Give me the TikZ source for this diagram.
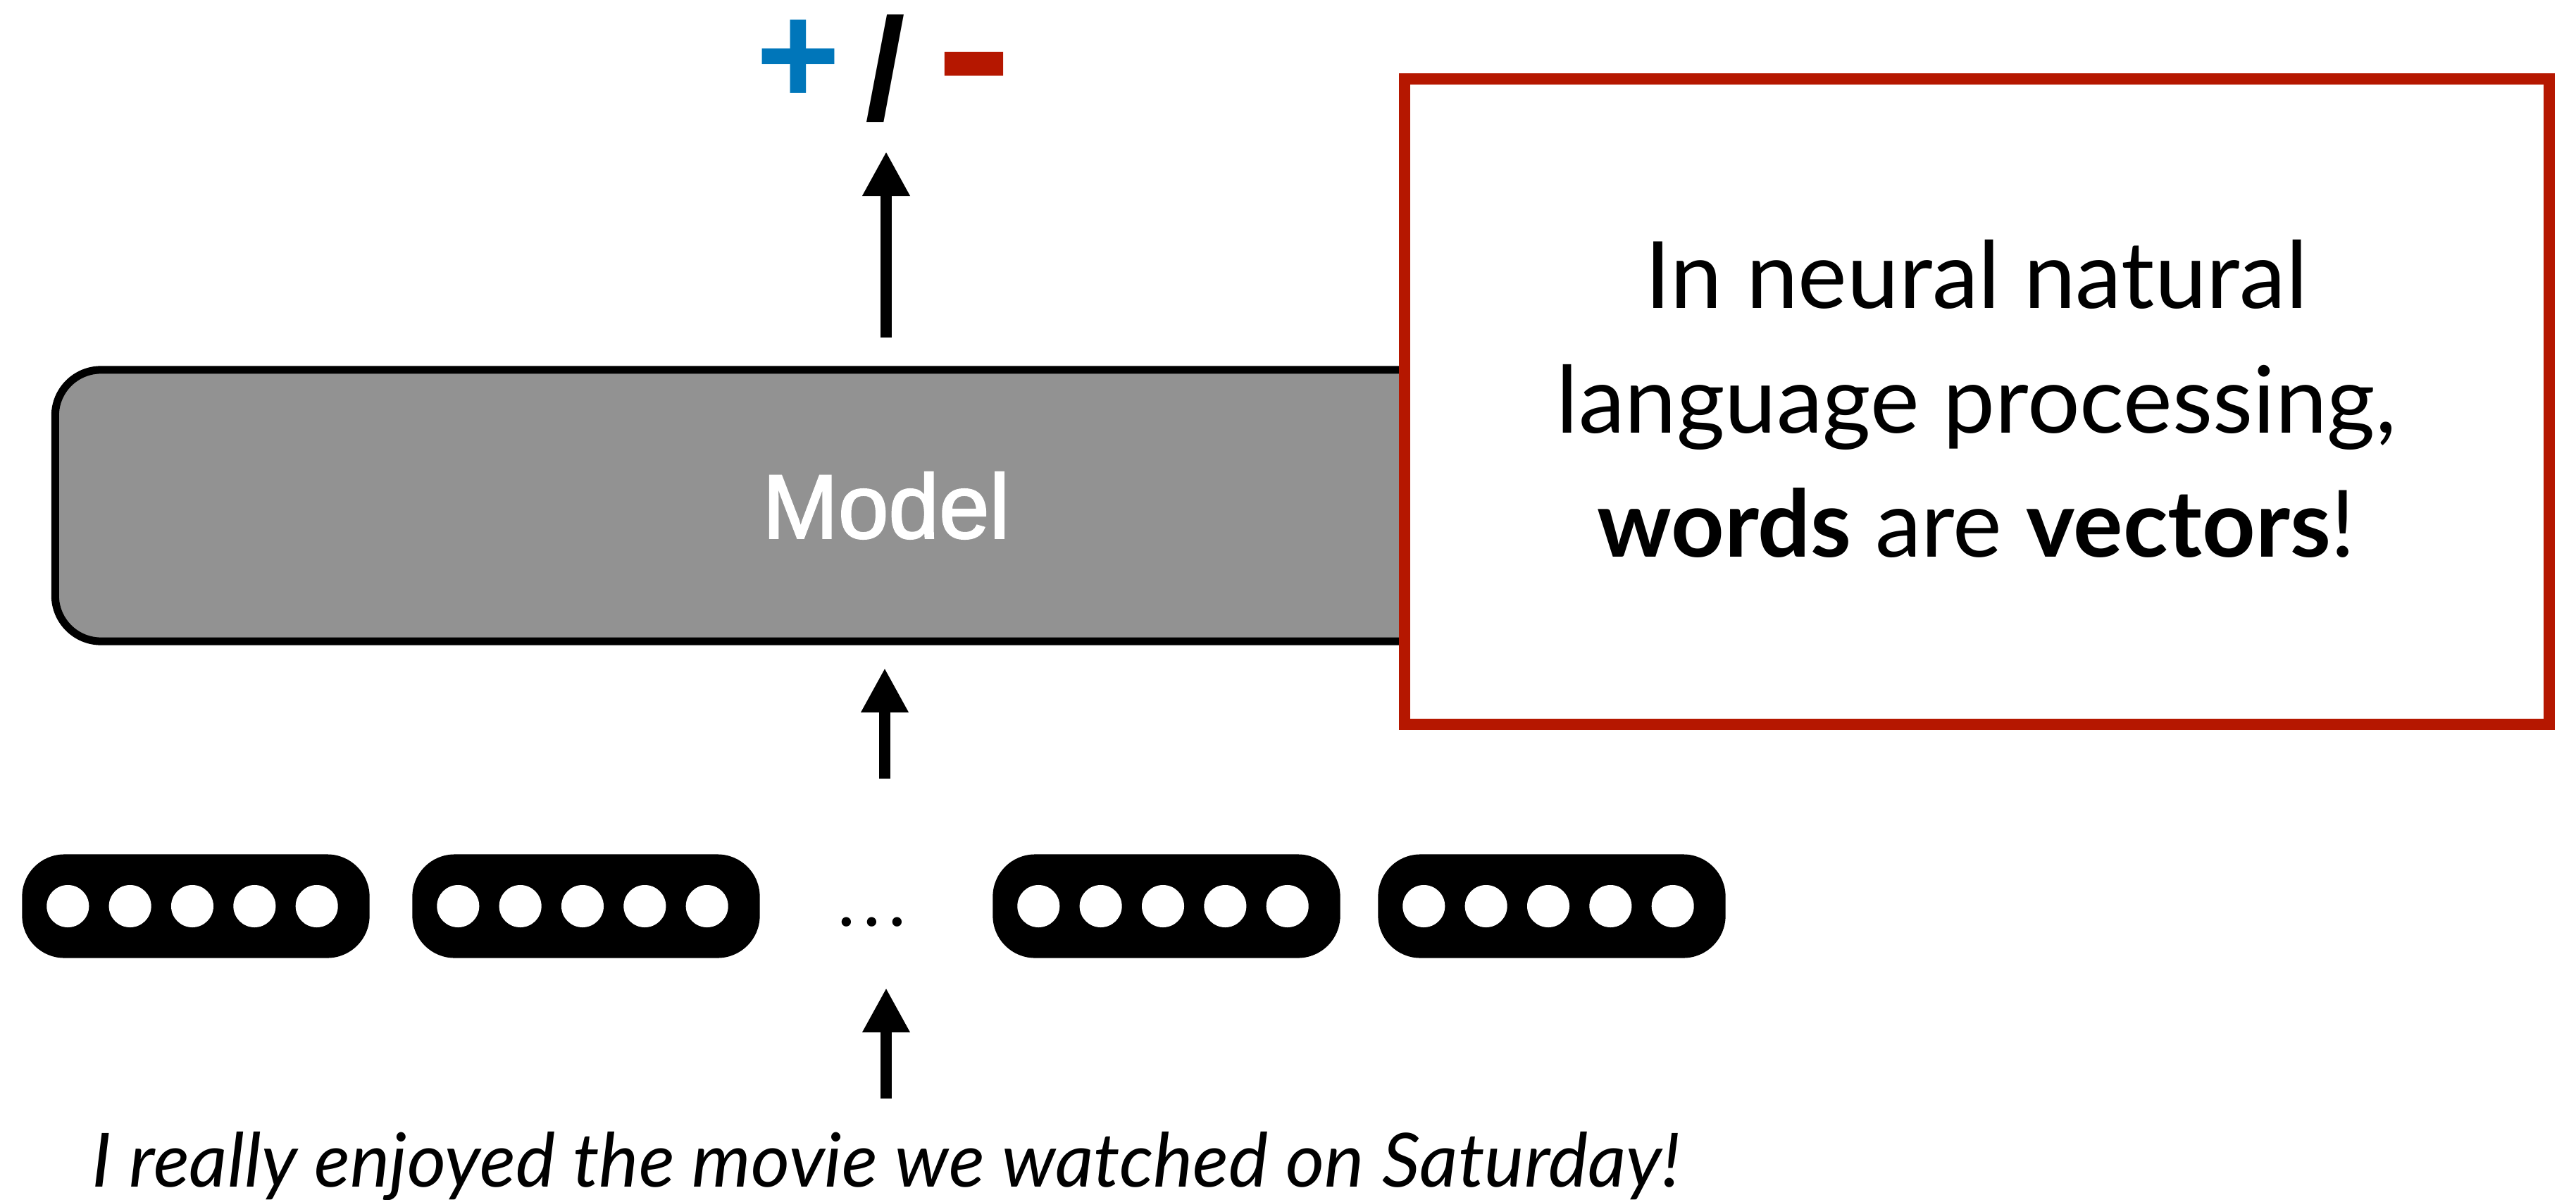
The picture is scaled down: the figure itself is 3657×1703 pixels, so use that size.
\documentclass[tikz,border=0pt]{standalone}
\usepackage{fontspec}
\setmainfont{Lato}
\newfontfamily\helv[FakeBold=2]{Liberation Sans}
\newfontfamily\helvbold{Liberation Sans Bold}
\usetikzlibrary{arrows.meta}
\definecolor{boxred}{RGB}{181,23,0}
\definecolor{plusblue}{RGB}{0,118,186}
\definecolor{modelgray}{RGB}{146,146,146}
\begin{document}
\begin{tikzpicture}[x=0.01cm,y=-0.01cm,
  arr/.style={line width=0.16cm,-{Triangle[length=0.63cm,width=0.63cm]}},
  vecbox/.style={fill=black,rounded corners=0.6cm,minimum width=4.93cm,
    minimum height=1.47cm,inner sep=0pt},
  unit/.style={circle,fill=white,minimum size=0.6cm,inner sep=0pt},
  signfont/.style={font=\helvbold\fontsize{58.3pt}{60pt}\selectfont,inner sep=0pt},
  italictext/.style={font=\itshape\fontsize{30.2pt}{34pt}\selectfont,inner sep=0pt}]
\useasboundingbox (0,0) rectangle (3657,1703);

% output label: positive / negative
\node[signfont,text=plusblue] (plus) at (1133,88) {+};
\node[signfont] (slash) at (1257,97) {/};
\node[signfont,text=boxred] (minus) at (1383,119) {\scalebox{1.6}[1.38]{-}};

% the model
\node[draw,line width=0.11cm,fill=modelgray,rounded corners=0.65cm,
  minimum width=23.58cm,minimum height=3.85cm,inner sep=0pt,
  text=white,font=\helv\fontsize{36.6pt}{40pt}\selectfont] (model) at (1258,717.5) {Model};

% word vectors
\foreach \cx/\nm in {278/v1,832/v2,1656/v3,2203/v4}{
  \node[vecbox] (\nm) at (\cx,1286) {};
  \foreach \k in {-2,...,2}{
    \node[unit] (\nm-\k) at ([xshift=-0.05cm+\k*0.883cm]\nm.center) {};
  }
}
\node[italictext,anchor=base] (dots) at (1241,1314) {.\kern3.2pt.\kern3.2pt.};

% input sentence
\node[italictext,anchor=base] (sentence) at (1258,1684)
  {I really enjoyed the movie we watched on Saturday!};

% arrow end points
\coordinate (inTail) at (1258,1559);
\coordinate (inTip) at (1258,1402);
\coordinate (midTail) at (1256,1105);
\coordinate (midTip) at (1256,948);
\coordinate (outTail) at (1258,479);
\coordinate (outTip) at (1258,215);
\draw[arr] (inTail) -- (inTip);
\draw[arr] (midTail) -- (midTip);
\draw[arr] (outTail) -- (outTip);

% callout
\node[draw=boxred,line width=0.16cm,fill=white,minimum width=16.24cm,
  minimum height=9.16cm,inner sep=0pt] (note) at (2806,570) {};
\node[align=center,inner sep=0pt,font=\fontsize{37.5pt}{50.1pt}\selectfont] (notetext) at (2806,566)
  {In neural natural\\ language processing,\\ \textbf{words} are \textbf{vectors}!};
\end{tikzpicture}
\end{document}
